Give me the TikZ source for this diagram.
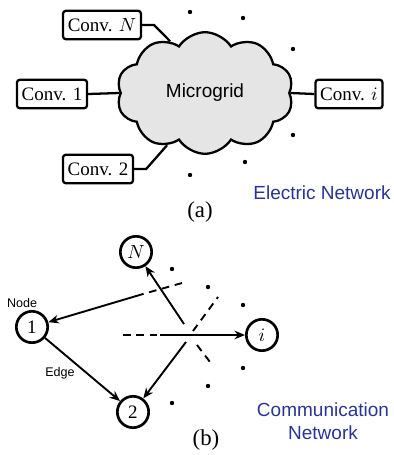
\documentclass[tikz,border=0pt]{standalone}
\usepackage{fontspec}
\setmainfont{Liberation Serif}
\setsansfont{Liberation Sans}
\usetikzlibrary{shapes.symbols,arrows.meta}
\definecolor{netblue}{RGB}{40,52,150}

\begin{document}
\begin{tikzpicture}[x=0.0185cm, y=-0.0185cm,
    conv/.style={rectangle, draw, line width=1.2pt, rounded corners=1.5pt,
                 inner sep=2.5pt, minimum height=15pt},
    vertex/.style={circle, draw, line width=1.4pt, minimum size=16.5pt, inner sep=0pt},
    wire/.style={line width=1.2pt},
    link/.style={line width=1pt, -{Stealth[length=5.5pt, width=4.5pt]}},
    linkdash/.style={line width=1pt, dash pattern=on 4pt off 3pt},
    dot/.style={circle, fill, inner sep=0pt, minimum size=2.3pt},
    tag/.style={font=\sffamily\fontsize{6.6}{8}\selectfont},
    netname/.style={font=\sffamily, text=netblue, align=center}
]
    \useasboundingbox (0,0) rectangle (394,455);

    % (a) electric network
    \node[cloud, cloud puffs=10, cloud puff arc=115, aspect=1.5, draw, line width=1.2pt,
          fill=gray!20, minimum width=93pt, minimum height=64pt, font=\sffamily] (mg) at (205,93) {Microgrid};
    \node[conv] (convN) at (102,25) {Conv. $N$};
    \node[conv] (conv1) at (52,94) {Conv. 1};
    \node[conv] (conv2) at (98,169) {Conv. 2};
    \node[conv] (convi) at (349,94) {Conv. $i$};

    \draw[wire] (convN.east) -- ++(12,0) -- (mg.124);
    \draw[wire] (conv1.east) -- (mg.west);
    \draw[wire] (conv2.east) -- ++(12,0) -- (mg.234);
    \draw[wire] (convi.west) -- (mg.east);

    \foreach \p in {(190,12),(243,18),(293,49),(293,135),(245,162),(190,175)}
        \node[dot] at \p {};

    \node[netname] (elec) at (322,193) {Electric Network};
    \node[font=\large] (capa) at (200,212) {(a)};

    % (b) communication network
    \node[vertex] (n1) at (32,327) {1};
    \node[vertex] (n2) at (133,412) {2};
    \node[vertex] (nN) at (136,252) {$N$};
    \node[vertex] (ni) at (262,335) {$i$};

    \coordinate (hub) at (190,335);
    \coordinate (h0) at (123,335);
    \coordinate (h1) at (160,335);
    \coordinate (a0) at (182,283);
    \coordinate (a1) at (143,294);
    \coordinate (b0) at (184,324);
    \coordinate (c0) at (186,342);
    \coordinate (d0) at (193,331);
    \coordinate (d1) at (218,297);
    \coordinate (e0) at (197,345);
    \coordinate (e1) at (210,362);

    \draw[linkdash] (h0) -- (h1);
    \draw[link] (h1) -- (ni);
    \draw[linkdash] (a0) -- (a1);
    \draw[link] (a1) -- (n1);
    \draw[link] (b0) -- (nN);
    \draw[link] (c0) -- (n2);
    \draw[linkdash] (d0) -- (d1);
    \draw[linkdash] (e0) -- (e1);
    \draw[link] (n1) -- (n2);

    \foreach \p in {(172,269),(208,287),(243,305),(243,368),(208,386),(172,403)}
        \node[dot] at \p {};

    \node[tag] (nodetag) at (22,303) {Node};
    \node[tag] (edgetag) at (60,373) {Edge};
    \node[netname] (comm) at (323,421) {Communication\\Network};
    \node[font=\large] (capb) at (206,440) {(b)};
\end{tikzpicture}
\end{document}
